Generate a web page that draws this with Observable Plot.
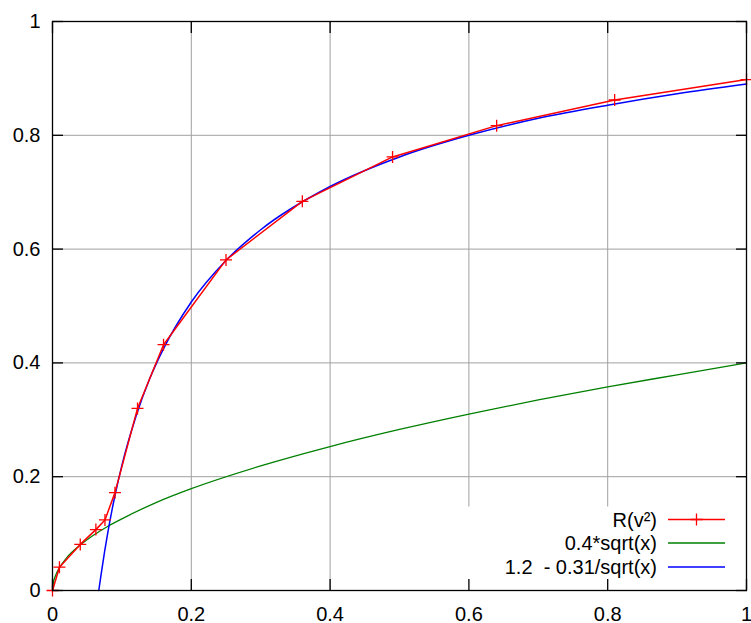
<!DOCTYPE html>
<html><head><meta charset="utf-8">
<script src="https://cdn.jsdelivr.net/npm/d3@7"></script>
<script src="https://cdn.jsdelivr.net/npm/@observablehq/plot@0.6"></script>
<style>body{margin:0;background:#fff} #chart{position:relative;width:751px;height:623px}</style>
</head><body><div id="chart"></div>
<script>
// R(v²) measured points
const rX = [0, 0.01, 0.04, 0.0625, 0.0756, 0.09, 0.1225, 0.16, 0.25, 0.36, 0.49, 0.64, 0.81, 1.0];
const rY = [0, 0.041, 0.081, 0.107, 0.124, 0.172, 0.32, 0.432, 0.581, 0.684, 0.762, 0.817, 0.862, 0.898];
// 0.4*sqrt(x) curve, read at sample points
const gX = [0, 0.001, 0.0025, 0.005, 0.01, 0.02, 0.04, 0.06, 0.08, 0.1, 0.15, 0.2, 0.3, 0.4, 0.5, 0.6, 0.7, 0.8, 0.9, 1.0];
const gY = [0, 0.0126, 0.02, 0.028, 0.04, 0.057, 0.08, 0.098, 0.113, 0.126, 0.155, 0.179, 0.219, 0.253, 0.283, 0.31, 0.335, 0.358, 0.379, 0.4];
// 1.2 - 0.31/sqrt(x) curve, read at sample points
const bX = [0.0667, 0.07, 0.075, 0.08, 0.09, 0.1, 0.12, 0.14, 0.16, 0.2, 0.25, 0.3, 0.4, 0.5, 0.6, 0.7, 0.8, 0.9, 1.0];
const bY = [0, 0.028, 0.068, 0.104, 0.167, 0.22, 0.305, 0.372, 0.425, 0.507, 0.58, 0.634, 0.71, 0.762, 0.8, 0.83, 0.853, 0.873, 0.89];
const xTicks = [0, 0.2, 0.4, 0.6, 0.8, 1];
const yTicks = [0, 0.2, 0.4, 0.6, 0.8, 1];
const xTickLabels = ["0", "0.2", "0.4", "0.6", "0.8", "1"];
const yTickLabels = ["0", "0.2", "0.4", "0.6", "0.8", "1"];
const seriesNames = ["R(v²)", "0.4*sqrt(x)", "1.2  - 0.31/sqrt(x)"];
const seriesColors = ["#ff0000", "#008000", "#0000ff"];

const red = rX.map((x, i) => ({x, y: rY[i]}));
const green = gX.map((x, i) => ({x, y: gY[i]}));
const blue = bX.map((x, i) => ({x, y: bY[i]}));

const plusSymbol = {draw(ctx, size) {
  const r = Math.sqrt(size / Math.PI);
  ctx.moveTo(-r, 0); ctx.lineTo(r, 0);
  ctx.moveTo(0, -r); ctx.lineTo(0, r);
}};

const gridColor = "#a0a0a0";
const chart = Plot.plot({
  width: 751, height: 623,
  marginLeft: 52, marginRight: 5, marginTop: 21, marginBottom: 33,
  style: {fontFamily: "'Liberation Sans', Arial, sans-serif", fontSize: "20px", background: "white", color: "black"},
  x: {domain: [0, 1], axis: null},
  y: {domain: [0, 1], axis: null},
  marks: [
    Plot.gridX(xTicks, {stroke: gridColor, strokeOpacity: 1, strokeWidth: 1}),
    Plot.gridY(yTicks, {stroke: gridColor, strokeOpacity: 1, strokeWidth: 1}),
    Plot.frame({fill: "white", insetLeft: 410, insetTop: 485}),
    Plot.line(green, {x: "x", y: "y", stroke: seriesColors[1], strokeWidth: 1.3, curve: "monotone-x"}),
    Plot.line(blue, {x: "x", y: "y", stroke: seriesColors[2], strokeWidth: 1.5, curve: "monotone-x"}),
    Plot.line(red, {x: "x", y: "y", stroke: seriesColors[0], strokeWidth: 1.5}),
    Plot.dot(red, {x: "x", y: "y", stroke: seriesColors[0], fill: "none", symbol: plusSymbol, r: 6, strokeWidth: 1.3}),
    Plot.axisX(xTicks, {anchor: "bottom", tickSize: -11, tickFormat: () => "", label: null, strokeWidth: 1.3}),
    Plot.axisX(xTicks, {anchor: "top", tickSize: -11, tickFormat: () => "", label: null, strokeWidth: 1.3}),
    Plot.axisY(yTicks, {anchor: "left", tickSize: -11, tickFormat: () => "", label: null, strokeWidth: 1.3}),
    Plot.axisY(yTicks, {anchor: "right", tickSize: -11, tickFormat: () => "", label: null, strokeWidth: 1.3}),
    Plot.axisX(xTicks, {anchor: "bottom", tickSize: 0, tickPadding: 16, label: null, tickFormat: d => xTickLabels[xTicks.indexOf(d)]}),
    Plot.axisY(yTicks, {anchor: "left", tickSize: 0, tickPadding: 12, label: null, tickFormat: d => yTickLabels[yTicks.indexOf(d)]}),
    Plot.frame({stroke: "black", strokeWidth: 1.3})
  ]
});
document.getElementById("chart").appendChild(chart);

// legend (inside plot area, bottom-right)
const svg = d3.select(chart);
const lg = svg.append("g").attr("font-family", "'Liberation Sans', Arial, sans-serif").attr("font-size", 20);
const rowY = [519.5, 543, 567];
seriesNames.forEach((name, i) => {
  lg.append("text").attr("x", 657).attr("y", rowY[i]).attr("dy", "0.35em")
    .attr("text-anchor", "end").style("white-space", "pre").attr("fill", "black").text(name);
  lg.append("line").attr("x1", 668).attr("x2", 725).attr("y1", rowY[i]).attr("y2", rowY[i])
    .attr("stroke", seriesColors[i]).attr("stroke-width", 1.4);
});
lg.append("path").attr("d", `M${696.5 - 6},${rowY[0]}h12M696.5,${rowY[0] - 6}v12`)
  .attr("stroke", seriesColors[0]).attr("stroke-width", 1.3);
</script></body></html>
